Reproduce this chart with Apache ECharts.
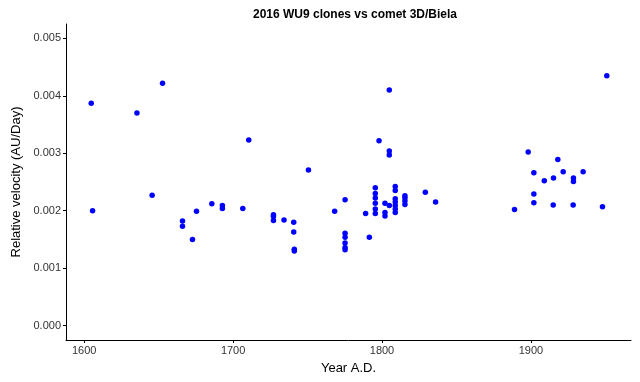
<!DOCTYPE html>
<html>
<head>
<meta charset="utf-8">
<script src="https://cdn.jsdelivr.net/npm/echarts@6/dist/echarts.min.js"></script>
<style>html,body{margin:0;padding:0;background:#fff}#c{width:640px;height:382px}</style>
</head>
<body>
<div id="c"></div>
<script>
var years = [1604.7,1605.6,1635.4,1645.6,1652.6,1666.0,1666.0,1672.7,1675.4,1685.7,1692.8,1692.8,1706.5,1710.5,
  1727.1,1727.1,1727.1,1734.2,1740.7,1740.7,1741.1,1741.1,1750.6,1768.2,1775.2,1775.2,1775.2,1775.2,1775.2,1775.2,
  1789.0,1791.5,1795.5,1795.5,1795.5,1795.5,1795.5,1795.5,1798.0,1802.0,1802.0,1802.0,1804.9,1804.9,1804.9,1804.9,
  1808.9,1808.9,1808.9,1808.9,1808.9,1808.9,1808.9,1815.4,1815.4,1815.4,1815.4,1829.1,1836.0,
  1889.0,1898.2,1902.0,1902.0,1902.0,1909.0,1915.0,1915.2,1918.1,1921.7,1928.4,1928.6,1928.6,1935.1,1948.1,1951.0];
var velocity = [0.00387,0.00200,0.00370,0.00227,0.00422,0.00182,0.00173,0.00150,0.00199,0.00212,0.00209,0.00204,0.00204,0.00323,
  0.00193,0.00190,0.00183,0.00184,0.00180,0.00163,0.00133,0.00130,0.00271,0.00199,0.00219,0.00161,0.00154,0.00144,0.00136,0.00132,
  0.00195,0.00154,0.00240,0.00230,0.00222,0.00213,0.00203,0.00195,0.00322,0.00213,0.00197,0.00191,0.00410,0.00304,0.00297,0.00209,
  0.00242,0.00235,0.00221,0.00215,0.00209,0.00203,0.00197,0.00226,0.00222,0.00217,0.00211,0.00232,0.00215,
  0.00202,0.00302,0.00266,0.00229,0.00214,0.00252,0.00210,0.00257,0.00289,0.00268,0.00210,0.00257,0.00251,0.00268,0.00207,0.00435];
var xTicks = [1600, 1700, 1800, 1900];
var yTicks = [0, 0.001, 0.002, 0.003, 0.004, 0.005];

var pts = years.map(function (y, i) { return [y, velocity[i]]; });
var font = "'Liberation Sans', Arial, sans-serif";
var chart = echarts.init(document.getElementById('c'), null, {renderer: 'canvas'});
chart.setOption({
  animation: false,
  backgroundColor: '#fff',
  title: {
    text: '2016 WU9 clones vs comet 3D/Biela',
    left: 350, top: 4, textAlign: 'center',
    textStyle: {fontFamily: font, fontSize: 12, fontWeight: 'bold', color: '#000'}
  },
  grid: {left: 66, right: 9, top: 24, bottom: 42, containLabel: false},
  xAxis: {
    type: 'value', min: 1587.75, max: 1967.25,
    name: 'Year A.D.', nameLocation: 'middle', nameGap: 22,
    nameTextStyle: {fontFamily: font, fontSize: 13, color: '#000'},
    axisLine: {show: true, onZero: false, lineStyle: {color: '#000', width: 1}},
    axisTick: {show: true, length: 3, lineStyle: {color: '#000'}, customValues: xTicks},
    axisLabel: {fontFamily: font, fontSize: 11, color: '#333', margin: 5, customValues: xTicks,
      formatter: function (v) { return String(Math.round(v)); }},
    splitLine: {show: false}
  },
  yAxis: {
    type: 'value', min: -0.00025, max: 0.00525,
    name: 'Relative velocity (AU/Day)', nameLocation: 'middle', nameGap: 40, nameRotate: 90,
    nameTextStyle: {fontFamily: font, fontSize: 13, color: '#000'},
    axisLine: {show: true, onZero: false, lineStyle: {color: '#000', width: 1}},
    axisTick: {show: true, length: 3, lineStyle: {color: '#000'}, customValues: yTicks},
    axisLabel: {fontFamily: font, fontSize: 11, color: '#333', margin: 5, customValues: yTicks,
      formatter: function (v) { return v.toFixed(3); }},
    splitLine: {show: false}
  },
  series: [{
    type: 'scatter', data: pts, symbol: 'circle', symbolSize: 5.5,
    itemStyle: {color: '#0000ff', opacity: 1}
  }]
});
</script>
</body>
</html>
